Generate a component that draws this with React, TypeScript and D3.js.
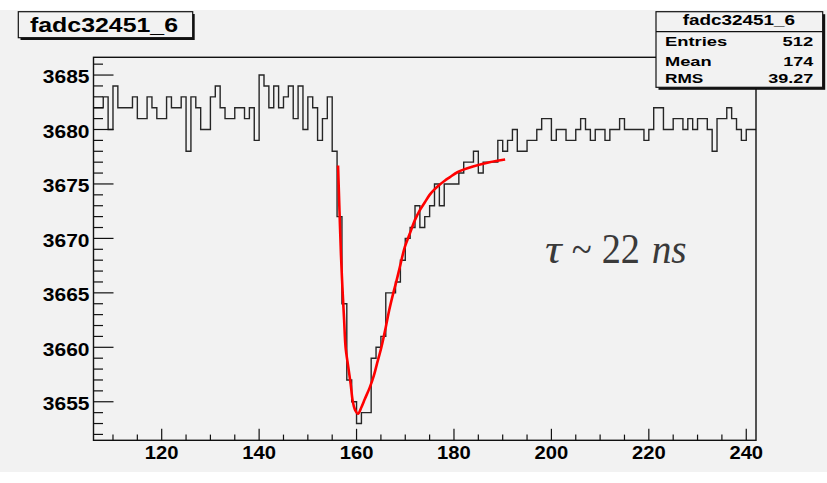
import React from 'react';
import * as d3 from 'd3';

const W = 827;
const H = 483;

// histogram: bins of width 1 starting at x = 106
const binStart = 106;
const binValues = [
  3682, 3682, 3683, 3680, 3684, 3682, 3682, 3682, 3683, 3681, // 106-115
  3681, 3683, 3682, 3681, 3681, 3683, 3682, 3682, 3683, 3678, // 116-125
  3683, 3682, 3680, 3680, 3683, 3684, 3682, 3681, 3681, 3682, // 126-135
  3682, 3681, 3682, 3679, 3685, 3684, 3682, 3684, 3682, 3683, // 136-145
  3684, 3681, 3684, 3680, 3683, 3682, 3679, 3681, 3683, 3678, // 146-155
  3672, 3664, 3657, 3655, 3653, 3654, 3654, 3659, 3660, 3661, // 156-165
  3665, 3665, 3666, 3668, 3670, 3671, 3673, 3671, 3672, 3673, // 166-175
  3675, 3673, 3675, 3675, 3675, 3676, 3677, 3677, 3678, 3676, // 176-185
  3677, 3677, 3677, 3679, 3678, 3679, 3680, 3678, 3678, 3679, // 186-195
  3679, 3680, 3681, 3681, 3679, 3680, 3680, 3679, 3679, 3680, // 196-205
  3681, 3680, 3679, 3680, 3680, 3679, 3680, 3680, 3681, 3680, // 206-215
  3680, 3680, 3680, 3679, 3680, 3682, 3682, 3680, 3680, 3681, // 216-225
  3681, 3680, 3681, 3680, 3681, 3681, 3680, 3678, 3681, 3681, // 226-235
  3682, 3681, 3680, 3679, 3680, 3680,                         // 236-241
];

// fit curve
const fitX = [156.2, 156.5, 156.8, 157.1, 157.45, 157.75, 158.3, 158.8, 159.2, 159.65, 160.3, 161.0, 161.7, 162.7, 163.55, 164.2, 165.1, 166.0, 166.7, 167.5, 168.2, 168.9, 169.9, 170.9, 172.0, 173.0, 174.0, 175.0, 176.0, 177.1, 178.1, 179.1, 180.8, 183.9, 187.3, 190.5];
const fitY = [3676.7, 3672.5, 3668.5, 3665.5, 3662.5, 3660.0, 3658.2, 3656.6, 3655.1, 3654.3, 3653.9, 3654.5, 3655.25, 3656.3, 3657.4, 3658.5, 3660.0, 3661.85, 3663.4, 3664.9, 3666.1, 3667.4, 3669.2, 3670.4, 3671.7, 3672.6, 3673.3, 3674.0, 3674.5, 3674.95, 3675.3, 3675.6, 3676.1, 3676.6, 3677.0, 3677.25];

const xMajorTicks = [120, 140, 160, 180, 200, 220, 240];
const xMinorTicks = d3.range(110, 242, 5);
const yMajorTicks = [3655, 3660, 3665, 3670, 3675, 3680, 3685];
const yMinorTicks = d3.range(3652, 3687, 1);

const histName = 'fadc32451_6';
const statLabels = ['Entries', 'Mean', 'RMS'];
const statValues = ['512', '174', '39.27'];

const BG = '#f2f2f2';
const FONT = '"Liberation Sans", Arial, Helvetica, sans-serif';

export default function App() {
  const left = 93.5, right = 756, top = 57.3, bottom = 440.3;
  const x = d3.scaleLinear().domain([106, 242]).range([left, right]);
  const y = d3.scaleLinear().domain([3651.46, 3686.63]).range([bottom, top]);

  const histPts: [number, number][] = binValues.map((v, i) => [binStart + i, v]);
  histPts.push([binStart + binValues.length, binValues[binValues.length - 1]]);
  const histPath = d3.line<[number, number]>()
    .x(d => x(d[0]))
    .y(d => y(d[1]))
    .curve(d3.curveStepAfter)(histPts) || '';

  const fitPts: [number, number][] = fitX.map((v, i) => [v, fitY[i]]);
  const fitPath = d3.line<[number, number]>()
    .x(d => x(d[0]))
    .y(d => y(d[1]))
    .curve(d3.curveCatmullRom.alpha(0.5))(fitPts) || '';

  const yLabelW = 46.7;
  const xLabelW = 33.7;

  // stats box
  const sL = 656, sR = 822.7, sT = 11.7, sB = 87.3;

  return (
    <svg width={W} height={H} style={{ position: 'absolute', left: 0, top: 0 }} xmlns="http://www.w3.org/2000/svg">
      <defs>
        <clipPath id="frameClip">
          <rect x={left} y={top} width={right - left} height={bottom - top} />
        </clipPath>
      </defs>
      <rect x={0} y={0} width={W} height={H} fill="#ffffff" />
      <rect x={0} y={10} width={W} height={462} fill={BG} />

      {/* histogram */}
      <g clipPath="url(#frameClip)">
        <path d={histPath} fill="none" stroke="#262626" strokeWidth={1.4} />
      </g>

      {/* fit */}
      <path d={fitPath} fill="none" stroke="#ff0000" strokeWidth={2.6} strokeLinejoin="round" />

      {/* frame */}
      <rect x={left} y={top} width={right - left} height={bottom - top} fill="none" stroke="#111" strokeWidth={1.4} />

      {/* y ticks */}
      {yMinorTicks.map(t => (
        <line key={'ym' + t} x1={left} x2={left + (yMajorTicks.includes(t) ? 20 : 9.5)} y1={y(t)} y2={y(t)} stroke="#111" strokeWidth={1.2} />
      ))}
      {yMajorTicks.map(t => (
        <text key={'yl' + t} x={89.5 - yLabelW} y={y(t) + 8.3} fontFamily={FONT} fontWeight="bold" fontSize={17.5}
          textLength={yLabelW} lengthAdjust="spacingAndGlyphs" fill="#000">{t}</text>
      ))}

      {/* x ticks */}
      {xMinorTicks.map(t => (
        <line key={'xm' + t} x1={x(t)} x2={x(t)} y1={bottom} y2={bottom - (xMajorTicks.includes(t) ? 11.5 : 5.7)} stroke="#111" strokeWidth={1.2} />
      ))}
      {xMajorTicks.map(t => (
        <text key={'xl' + t} x={x(t) - xLabelW / 2} y={459} fontFamily={FONT} fontWeight="bold" fontSize={18.5}
          textLength={xLabelW} lengthAdjust="spacingAndGlyphs" fill="#000">{t}</text>
      ))}

      {/* title box */}
      <rect x={20.5} y={14} width={174.2} height={26} fill="#111" />
      <rect x={18.3} y={11.7} width={174.4} height={26} fill={BG} stroke="#111" strokeWidth={1.2} />
      <text x={30} y={32.3} fontFamily={FONT} fontWeight="bold" fontSize={20} textLength={148} lengthAdjust="spacingAndGlyphs" fill="#000">{histName}</text>

      {/* stats box */}
      <rect x={sL + 2.5} y={sT + 2.5} width={sR - sL} height={sB - sT} fill="#111" />
      <rect x={sL} y={sT} width={sR - sL} height={sB - sT} fill={BG} stroke="#111" strokeWidth={1.2} />
      <line x1={sL} x2={sR} y1={31.7} y2={31.7} stroke="#111" strokeWidth={1.2} />
      <text x={682.7} y={25} fontFamily={FONT} fontWeight="bold" fontSize={14} textLength={112.3} lengthAdjust="spacingAndGlyphs" fill="#000">{histName}</text>
      {statLabels.map((s, i) => (
        <text key={'sl' + s} x={665} y={[46, 65.5, 83.3][i]} fontFamily={FONT} fontWeight="bold" fontSize={13.5}
          textLength={[62.3, 46.7, 38.3][i]} lengthAdjust="spacingAndGlyphs" fill="#000">{s}</text>
      ))}
      {statValues.map((s, i) => (
        <text key={'sv' + s} x={813.3 - [30.7, 30, 45][i]} y={[46, 65.5, 83.3][i]} fontFamily={FONT} fontWeight="bold" fontSize={13.5}
          textLength={[30.7, 30, 45][i]} lengthAdjust="spacingAndGlyphs" fill="#000">{s}</text>
      ))}

      {/* annotation */}
      <g fontFamily='"Liberation Serif", "Times New Roman", serif' fill="#3a3a3a" fontSize={42}>
        <text x={545} y={262.7} fontStyle="italic" textLength={16.7} lengthAdjust="spacingAndGlyphs">τ</text>
        <text x={571.7} y={262.7} textLength={20} lengthAdjust="spacingAndGlyphs">~</text>
        <text x={601.7} y={262.7} textLength={38.3} lengthAdjust="spacingAndGlyphs">22</text>
        <text x={651.7} y={262.7} fontStyle="italic" textLength={35} lengthAdjust="spacingAndGlyphs">ns</text>
      </g>
    </svg>
  );
}
